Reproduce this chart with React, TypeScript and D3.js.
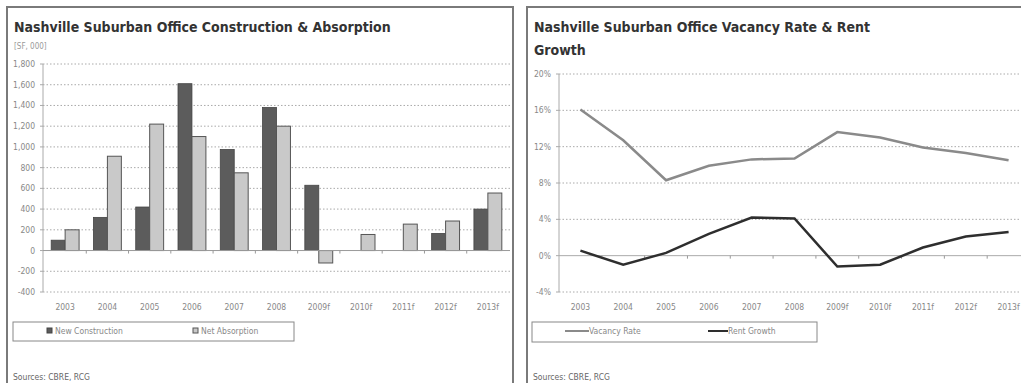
import { useEffect, useRef } from 'react';
import { line, scaleBand, scaleLinear, select } from 'd3';

const years = ['2003', '2004', '2005', '2006', '2007', '2008', '2009f', '2010f', '2011f', '2012f', '2013f'];
const newConstruction = [100, 320, 420, 1610, 975, 1380, 630, 0, 0, 165, 400];
const netAbsorption = [200, 910, 1220, 1100, 750, 1200, -120, 155, 255, 285, 555];
const barTicks = [-400, -200, 0, 200, 400, 600, 800, 1000, 1200, 1400, 1600, 1800];

const vacancyRate = [16.1, 12.7, 8.3, 9.9, 10.6, 10.7, 13.6, 13.0, 11.9, 11.3, 10.5];
const rentGrowth = [0.55, -1.0, 0.3, 2.4, 4.2, 4.1, -1.2, -1.0, 0.9, 2.1, 2.6];
const pctTicks = [-4, 0, 4, 8, 12, 16, 20];

const titleFont = '"Liberation Sans Narrow", "DejaVu Sans Condensed", sans-serif';
const smallFont = '"Liberation Sans Narrow", "DejaVu Sans Condensed", sans-serif';

const App = () => {
  const svgRef = useRef<SVGSVGElement>(null);

  useEffect(() => {
    const svg = select(svgRef.current);
    svg.selectAll('*').remove();

    // panel frames
    svg.append('rect').attr('x', 7).attr('y', 7).attr('width', 506).attr('height', 400)
      .attr('fill', 'white').attr('stroke', '#7a7a7a').attr('stroke-width', 2);
    svg.append('rect').attr('x', 527).attr('y', 7).attr('width', 520).attr('height', 400)
      .attr('fill', 'white').attr('stroke', '#7a7a7a').attr('stroke-width', 2);

    // ---------- left: bars ----------
    const left = svg.append('g');
    left.append('text').attr('x', 14).attr('y', 32).text('Nashville Suburban Office Construction & Absorption')
      .attr('font-family', titleFont).attr('font-weight', 'bold').attr('font-size', 14).attr('fill', '#333');
    left.append('text').attr('x', 14).attr('y', 49).text('[SF, 000]')
      .attr('font-family', smallFont).attr('font-size', 8).attr('fill', '#999');

    const x = scaleBand<string>().domain(years).range([44, 509]).paddingInner(0.34).paddingOuter(0.17);
    const y = scaleLinear().domain([-400, 1800]).range([292, 64]);

    left.selectAll('line.grid').data(barTicks.filter((d) => d !== 0)).join('line')
      .attr('x1', 43).attr('x2', 510).attr('y1', (d) => y(d)).attr('y2', (d) => y(d))
      .attr('stroke', '#aaa').attr('stroke-dasharray', '1.5,2');
    left.append('line').attr('x1', 43).attr('x2', 43).attr('y1', y(1800)).attr('y2', y(-400)).attr('stroke', '#aaa');
    left.selectAll('line.ytick').data(barTicks).join('line')
      .attr('x1', 40).attr('x2', 43).attr('y1', (d) => y(d)).attr('y2', (d) => y(d)).attr('stroke', '#aaa');
    left.selectAll('text.ylab').data(barTicks).join('text')
      .attr('x', 35).attr('y', (d) => y(d)).attr('dy', '0.35em').attr('text-anchor', 'end')
      .attr('font-family', smallFont).attr('font-size', 8.5).attr('fill', '#888')
      .text((d) => (d < 0 ? '-' : '') + Math.abs(d).toLocaleString('en-US'));

    const bw = x.bandwidth() / 2;
    left.selectAll('rect.nc').data(years).join('rect')
      .attr('x', (d) => x(d)!).attr('width', bw)
      .attr('y', (d, i) => y(Math.max(0, newConstruction[i])))
      .attr('height', (d, i) => Math.abs(y(newConstruction[i]) - y(0)))
      .attr('fill', '#5c5c5c').attr('stroke', '#444').attr('stroke-width', 0.8);
    left.selectAll('rect.na').data(years).join('rect')
      .attr('x', (d) => x(d)! + bw).attr('width', bw)
      .attr('y', (d, i) => y(Math.max(0, netAbsorption[i])))
      .attr('height', (d, i) => Math.abs(y(netAbsorption[i]) - y(0)))
      .attr('fill', '#c9c9c9').attr('stroke', '#555').attr('stroke-width', 1);

    left.append('line').attr('x1', 43).attr('x2', 510).attr('y1', y(0)).attr('y2', y(0)).attr('stroke', '#999');
    left.selectAll('line.xtick').data(years.slice(1)).join('line')
      .attr('x1', (d) => x(d)! - x.step() * 0.17).attr('x2', (d) => x(d)! - x.step() * 0.17)
      .attr('y1', y(0)).attr('y2', y(0) + 3).attr('stroke', '#999');
    left.selectAll('text.xlab').data(years).join('text')
      .attr('x', (d) => x(d)! + x.bandwidth() / 2).attr('y', 307).attr('dy', '0.35em').attr('text-anchor', 'middle')
      .attr('font-family', smallFont).attr('font-size', 8.5).attr('fill', '#888').text((d) => d);

    left.append('rect').attr('x', 13).attr('y', 322).attr('width', 281).attr('height', 19)
      .attr('fill', 'none').attr('stroke', '#888');
    left.append('rect').attr('x', 47).attr('y', 328).attr('width', 5).attr('height', 5).attr('fill', '#5c5c5c').attr('stroke', '#444');
    left.append('text').attr('x', 55).attr('y', 331).attr('dy', '0.35em').text('New Construction')
      .attr('font-family', smallFont).attr('font-size', 8.5).attr('fill', '#888');
    left.append('rect').attr('x', 193).attr('y', 328).attr('width', 5).attr('height', 5).attr('fill', '#c9c9c9').attr('stroke', '#555');
    left.append('text').attr('x', 201).attr('y', 331).attr('dy', '0.35em').text('Net Absorption')
      .attr('font-family', smallFont).attr('font-size', 8.5).attr('fill', '#888');
    left.append('text').attr('x', 13).attr('y', 377).attr('dy', '0.35em').text('Sources: CBRE, RCG')
      .attr('font-family', smallFont).attr('font-size', 8.5).attr('fill', '#666');

    // ---------- right: lines ----------
    const right = svg.append('g');
    right.append('text').attr('x', 534).attr('y', 32).text('Nashville Suburban Office Vacancy Rate & Rent')
      .attr('font-family', titleFont).attr('font-weight', 'bold').attr('font-size', 14).attr('fill', '#333');
    right.append('text').attr('x', 534).attr('y', 55).text('Growth')
      .attr('font-family', titleFont).attr('font-weight', 'bold').attr('font-size', 14).attr('fill', '#333');

    const x2 = scaleBand<string>().domain(years).range([559, 1030]);
    const y2 = scaleLinear().domain([-4, 20]).range([292, 74]);
    const cx = (i: number) => x2(years[i])! + x2.bandwidth() / 2;

    right.selectAll('line.grid').data(pctTicks.filter((d) => d !== 0)).join('line')
      .attr('x1', 559).attr('x2', 1021).attr('y1', (d) => y2(d)).attr('y2', (d) => y2(d))
      .attr('stroke', '#aaa').attr('stroke-dasharray', '1.5,2');
    right.append('line').attr('x1', 559).attr('x2', 559).attr('y1', y2(20)).attr('y2', y2(-4)).attr('stroke', '#aaa');
    right.selectAll('line.ytick').data(pctTicks).join('line')
      .attr('x1', 556).attr('x2', 559).attr('y1', (d) => y2(d)).attr('y2', (d) => y2(d)).attr('stroke', '#aaa');
    right.selectAll('text.ylab').data(pctTicks).join('text')
      .attr('x', 551).attr('y', (d) => y2(d)).attr('dy', '0.35em').attr('text-anchor', 'end')
      .attr('font-family', smallFont).attr('font-size', 8.5).attr('fill', '#888').text((d) => `${d}%`);
    right.append('line').attr('x1', 559).attr('x2', 1021).attr('y1', y2(0)).attr('y2', y2(0)).attr('stroke', '#aaa');
    right.selectAll('line.xtick').data(years.slice(1)).join('line')
      .attr('x1', (d) => x2(d)!).attr('x2', (d) => x2(d)!)
      .attr('y1', y2(0)).attr('y2', y2(0) + 3).attr('stroke', '#999');
    right.selectAll('text.xlab').data(years).join('text')
      .attr('x', (d, i) => cx(i)).attr('y', 307).attr('dy', '0.35em').attr('text-anchor', 'middle')
      .attr('font-family', smallFont).attr('font-size', 8.5).attr('fill', '#888').text((d) => d);

    const path = line<number>().x((d, i) => cx(i)).y((d) => y2(d));
    right.append('path').attr('d', path(vacancyRate)).attr('fill', 'none')
      .attr('stroke', '#8a8a8a').attr('stroke-width', 2.5);
    right.append('path').attr('d', path(rentGrowth)).attr('fill', 'none')
      .attr('stroke', '#2e2e2e').attr('stroke-width', 2.5);

    right.append('rect').attr('x', 532).attr('y', 322).attr('width', 285).attr('height', 20)
      .attr('fill', 'none').attr('stroke', '#888');
    right.append('line').attr('x1', 565).attr('x2', 589).attr('y1', 331).attr('y2', 331).attr('stroke', '#8a8a8a').attr('stroke-width', 2);
    right.append('text').attr('x', 589).attr('y', 331).attr('dy', '0.35em').text('Vacancy Rate')
      .attr('font-family', smallFont).attr('font-size', 8.5).attr('fill', '#888');
    right.append('line').attr('x1', 708).attr('x2', 728).attr('y1', 331).attr('y2', 331).attr('stroke', '#2e2e2e').attr('stroke-width', 2);
    right.append('text').attr('x', 728).attr('y', 331).attr('dy', '0.35em').text('Rent Growth')
      .attr('font-family', smallFont).attr('font-size', 8.5).attr('fill', '#888');
    right.append('text').attr('x', 533).attr('y', 377).attr('dy', '0.35em').text('Sources: CBRE, RCG')
      .attr('font-family', smallFont).attr('font-size', 8.5).attr('fill', '#666');
  }, []);

  return (
    <svg
      ref={svgRef}
      width={1021}
      height={383}
      style={{ position: 'absolute', left: 0, top: 0, background: 'white' }}
    />
  );
};

export default App;
